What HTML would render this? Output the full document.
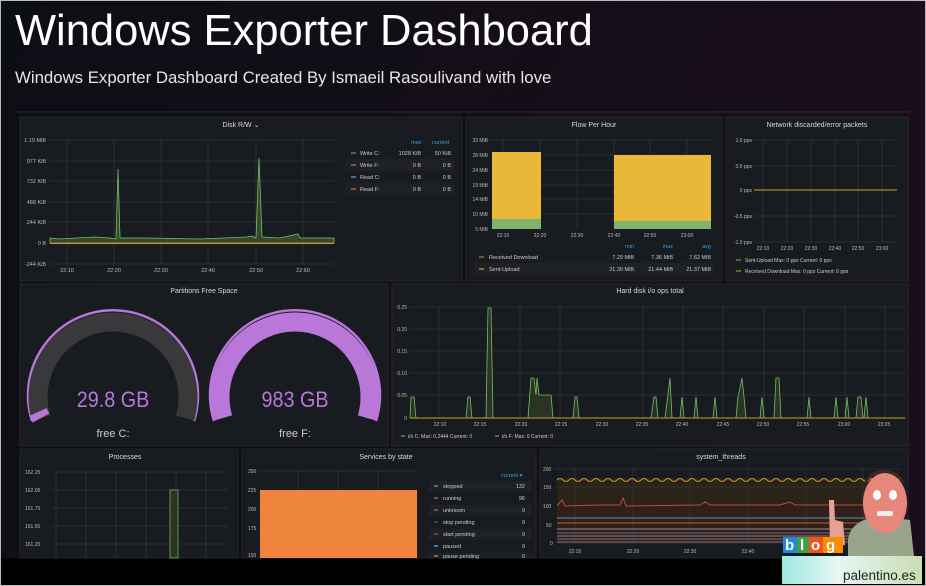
<!DOCTYPE html><html><head><meta charset="utf-8"><style>
html,body{margin:0;padding:0;background:#000;}
svg{display:block;font-family:"Liberation Sans",sans-serif;}
</style></head><body>
<svg width="926" height="586" viewBox="0 0 926 586" xmlns="http://www.w3.org/2000/svg">
<defs>
<linearGradient id="bg" x1="0" y1="0" x2="1" y2="0.3"><stop offset="0" stop-color="#0c0e15"/><stop offset="1" stop-color="#1b0d1c"/></linearGradient>
<linearGradient id="logo" x1="0" y1="0" x2="1" y2="0"><stop offset="0" stop-color="#9ee8e0"/><stop offset="0.4" stop-color="#e6f6f4"/><stop offset="1" stop-color="#c8ddb0"/></linearGradient>
</defs>
<rect width="926" height="586" fill="#000"/>
<rect x="0" y="0" width="926" height="558" fill="url(#bg)"/>
<rect x="0.5" y="0.5" width="925" height="585" fill="none" stroke="#bbb"/>
<text x="15" y="45" font-size="43.5" fill="#fff">Windows Exporter Dashboard</text>
<text x="15" y="83" font-size="16.8" fill="#e6e6e6">Windows Exporter Dashboard Created By Ismaeil Rasoulivand with love</text>
<line x1="15" y1="112" x2="910" y2="112" stroke="#2a2a33"/>
<g fill="#181b1f" stroke="#24262b">
<rect x="20" y="117" width="442" height="164"/>
<rect x="466" y="117" width="256" height="164"/>
<rect x="726" y="117" width="182" height="164"/>
<rect x="20" y="284" width="368" height="162"/>
<rect x="392" y="284" width="516" height="162"/>
<rect x="20" y="449" width="218" height="109"/>
<rect x="242" y="449" width="294" height="109"/>
<rect x="540" y="449" width="368" height="109"/>
</g>
<g font-size="7" fill="#d8d9da" text-anchor="middle">
<text x="241" y="127">Disk R/W ⌄</text>
<text x="594" y="127">Flow Per Hour</text>
<text x="817" y="127">Network discarded/error packets</text>
<text x="204" y="293">Partitions Free Space</text>
<text x="650" y="293">Hard disk i/o ops total</text>
<text x="125" y="459">Processes</text>
<text x="386" y="459">Services by state</text>
<text x="721" y="459">system_threads</text>
</g>
<!-- Disk RW -->
<g stroke="#2c2e33" stroke-width="1">
<line x1="50" y1="140" x2="334" y2="140"/><line x1="50" y1="161" x2="334" y2="161"/><line x1="50" y1="181" x2="334" y2="181"/><line x1="50" y1="202" x2="334" y2="202"/><line x1="50" y1="222" x2="334" y2="222"/><line x1="50" y1="243" x2="334" y2="243"/><line x1="50" y1="264" x2="334" y2="264"/>
<line x1="67" y1="140" x2="67" y2="264"/><line x1="114" y1="140" x2="114" y2="264"/><line x1="161" y1="140" x2="161" y2="264"/><line x1="208" y1="140" x2="208" y2="264"/><line x1="256" y1="140" x2="256" y2="264"/><line x1="303" y1="140" x2="303" y2="264"/>
</g>
<g font-size="5.5" fill="#bbb" text-anchor="end">
<text x="46" y="142">1.19 MiB</text><text x="46" y="163">977 KiB</text><text x="46" y="183">732 KiB</text><text x="46" y="204">488 KiB</text><text x="46" y="224">244 KiB</text><text x="46" y="245">0 B</text><text x="46" y="266">-244 KiB</text>
</g>
<g font-size="5.5" fill="#bbb" text-anchor="middle"><text x="67" y="272">22:10</text><text x="114" y="272">22:20</text><text x="161" y="272">22:30</text><text x="208" y="272">22:40</text><text x="256" y="272">22:50</text><text x="303" y="272">22:60</text></g>
<path d="M50 238 L60 239 L76 238 L95 237 L110 238 L116 239 L118 169 L120 238 L150 238 L200 239 L247 237 L252 236 L256 238 L259 158 L262 237 L280 238 L298 234 L300 238 L334 238 L334 243 L50 243Z" fill="#37472c" stroke="#73bf69" stroke-width="0.8"/>
<line x1="50" y1="243.5" x2="334" y2="243.5" stroke="#e08d2d" stroke-width="1"/>
<g font-size="5.5"><text x="411" y="144" fill="#33a2e5">max</text><text x="432" y="144" fill="#33a2e5">current</text>
<rect x="345" y="159" width="110" height="12" fill="#1f2126"/><rect x="345" y="183" width="110" height="12" fill="#1f2126"/>
<g fill="#ccc"><text x="360" y="155">Write C:</text><text x="360" y="167">Write F:</text><text x="360" y="179">Read C:</text><text x="360" y="191">Read F:</text>
<g text-anchor="end"><text x="421" y="155">1028 KiB</text><text x="451" y="155">50 KiB</text><text x="421" y="167">0 B</text><text x="451" y="167">0 B</text><text x="421" y="179">0 B</text><text x="451" y="179">0 B</text><text x="421" y="191">0 B</text><text x="451" y="191">0 B</text></g></g>
<line x1="351" y1="153" x2="356" y2="153" stroke="#73bf69"/><line x1="351" y1="165" x2="356" y2="165" stroke="#c9a02a"/><line x1="351" y1="177" x2="356" y2="177" stroke="#6ed0e0"/><line x1="351" y1="189" x2="356" y2="189" stroke="#ef843c"/></g>
<!-- Flow per hour -->
<g stroke="#2c2e33"><line x1="490" y1="140" x2="710" y2="140"/><line x1="490" y1="155" x2="710" y2="155"/><line x1="490" y1="170" x2="710" y2="170"/><line x1="490" y1="185" x2="710" y2="185"/><line x1="490" y1="199" x2="710" y2="199"/><line x1="490" y1="214" x2="710" y2="214"/>
<line x1="503" y1="140" x2="503" y2="229"/><line x1="540" y1="140" x2="540" y2="229"/><line x1="577" y1="140" x2="577" y2="229"/><line x1="614" y1="140" x2="614" y2="229"/><line x1="650" y1="140" x2="650" y2="229"/><line x1="687" y1="140" x2="687" y2="229"/></g>
<rect x="492" y="152" width="49" height="67" fill="#eab839"/><rect x="492" y="219" width="49" height="10" fill="#7eb26d"/>
<rect x="614" y="155" width="97" height="66" fill="#eab839"/><rect x="614" y="221" width="97" height="8" fill="#7eb26d"/>
<g font-size="5" fill="#bbb" text-anchor="end"><text x="488" y="142">33 MiB</text><text x="488" y="157">28 MiB</text><text x="488" y="172">24 MiB</text><text x="488" y="187">19 MiB</text><text x="488" y="201">14 MiB</text><text x="488" y="216">10 MiB</text><text x="488" y="231">5 MiB</text></g>
<g font-size="5" fill="#bbb" text-anchor="middle"><text x="503" y="237">22:10</text><text x="540" y="237">22:20</text><text x="577" y="237">22:30</text><text x="614" y="237">22:40</text><text x="650" y="237">22:50</text><text x="687" y="237">23:00</text></g>
<g font-size="5.5"><g fill="#33a2e5" text-anchor="end"><text x="634" y="248">min</text><text x="673" y="248">max</text><text x="711" y="248">avg</text></g>
<rect x="474" y="263" width="240" height="12" fill="#1f2126"/>
<g fill="#ccc"><text x="489" y="259">Received Download</text><text x="489" y="271">Sent-Upload</text>
<g text-anchor="end"><text x="634" y="259">7.29 MiB</text><text x="673" y="259">7.36 MiB</text><text x="711" y="259">7.62 MiB</text><text x="634" y="271">21.30 MiB</text><text x="673" y="271">21.44 MiB</text><text x="711" y="271">21.37 MiB</text></g></g>
<line x1="479" y1="257" x2="484" y2="257" stroke="#7eb26d"/><line x1="479" y1="269" x2="484" y2="269" stroke="#eab839"/></g>
<!-- Network -->
<g stroke="#2c2e33"><line x1="754" y1="140" x2="897" y2="140"/><line x1="754" y1="166" x2="897" y2="166"/><line x1="754" y1="216" x2="897" y2="216"/><line x1="754" y1="242" x2="897" y2="242"/>
<line x1="763" y1="140" x2="763" y2="242"/><line x1="787" y1="140" x2="787" y2="242"/><line x1="811" y1="140" x2="811" y2="242"/><line x1="835" y1="140" x2="835" y2="242"/><line x1="858" y1="140" x2="858" y2="242"/><line x1="882" y1="140" x2="882" y2="242"/></g>
<line x1="754" y1="190" x2="897" y2="190" stroke="#c9a02a"/>
<g font-size="5" fill="#bbb" text-anchor="end"><text x="752" y="142">1.0 pps</text><text x="752" y="168">0.5 pps</text><text x="752" y="192">0 pps</text><text x="752" y="218">-0.5 pps</text><text x="752" y="244">-1.0 pps</text></g>
<g font-size="5" fill="#bbb" text-anchor="middle"><text x="763" y="250">22:10</text><text x="787" y="250">22:20</text><text x="811" y="250">22:30</text><text x="835" y="250">22:40</text><text x="858" y="250">22:50</text><text x="882" y="250">23:00</text></g>
<g font-size="5" fill="#ccc"><text x="745" y="262">Sent-Upload  Max: 0 pps  Current: 0 pps</text><text x="745" y="273">Received Download  Max: 0 pps  Current: 0 pps</text></g>
<line x1="736" y1="260" x2="741" y2="260" stroke="#7eb26d"/><line x1="736" y1="271" x2="741" y2="271" stroke="#c9a02a"/>
<!-- gauges -->
<g fill="none">
<path d="M32 421 A85 85 0 1 1 194 421" stroke="#b877d9" stroke-width="2.5"/>
<path d="M41 418 A75 75 0 1 1 185 418" stroke="#39393c" stroke-width="19"/>
<path d="M41 418 A75 75 0 0 1 38 412" stroke="#b877d9" stroke-width="19"/>
<path d="M214 421 A85 85 0 1 1 376 421" stroke="#b877d9" stroke-width="2.5"/>
<path d="M223 418 A75 75 0 1 1 367 418" stroke="#b877d9" stroke-width="19"/>
</g>
<g font-size="22" fill="#b877d9" text-anchor="middle" transform="translate(113 407) scale(0.9 1)"><text x="0" y="0">29.8 GB</text></g>
<g font-size="22" fill="#b877d9" text-anchor="middle" transform="translate(295 407) scale(0.9 1)"><text x="0" y="0">983 GB</text></g>
<g font-size="11" fill="#ccc" text-anchor="middle"><text x="113" y="437">free C:</text><text x="295" y="437">free F:</text></g>
<!-- Hard disk -->
<g stroke="#2c2e33"><line x1="410" y1="307" x2="905" y2="307"/><line x1="410" y1="329" x2="905" y2="329"/><line x1="410" y1="351" x2="905" y2="351"/><line x1="410" y1="373" x2="905" y2="373"/><line x1="410" y1="395" x2="905" y2="395"/>
<line x1="439" y1="307" x2="439" y2="418"/><line x1="520" y1="307" x2="520" y2="418"/><line x1="560" y1="307" x2="560" y2="418"/><line x1="643" y1="307" x2="643" y2="418"/><line x1="683" y1="307" x2="683" y2="418"/><line x1="723" y1="307" x2="723" y2="418"/><line x1="764" y1="307" x2="764" y2="418"/><line x1="804" y1="307" x2="804" y2="418"/><line x1="845" y1="307" x2="845" y2="418"/><line x1="885" y1="307" x2="885" y2="418"/></g>
<g font-size="5" fill="#bbb" text-anchor="end"><text x="407" y="309">0.25</text><text x="407" y="331">0.20</text><text x="407" y="353">0.15</text><text x="407" y="375">0.10</text><text x="407" y="397">0.05</text><text x="407" y="420">0</text></g>
<g font-size="5" fill="#bbb" text-anchor="middle"><text x="440" y="426">22:10</text><text x="480" y="426">22:15</text><text x="521" y="426">22:20</text><text x="561" y="426">22:25</text><text x="602" y="426">22:30</text><text x="642" y="426">22:35</text><text x="682" y="426">22:40</text><text x="723" y="426">22:45</text><text x="763" y="426">22:50</text><text x="803" y="426">22:55</text><text x="844" y="426">23:00</text><text x="884" y="426">23:05</text></g>
<path d="M410 418 L411 397 L414 397 L416 418 L466 418 L468 397 L470 397 L472 418 L486 418 L488 308 L491 308 L493 418 L528 418 L531 378 L534 378 L536 395 L537 378 L539 395 L551 395 L553 418 L573 418 L575 397 L577 397 L579 418 L651 418 L654 397 L656 397 L658 418 L665 418 L670 378 L672 418 L680 418 L682 397 L684 418 L694 418 L696 397 L698 418 L713 418 L715 397 L717 418 L736 418 L738 397 L742 378 L744 397 L746 418 L760 418 L762 397 L764 418 L774 418 L776 378 L779 378 L781 418 L807 418 L809 397 L811 418 L834 418 L836 397 L838 418 L845 418 L847 397 L849 418 L856 418 L858 397 L861 397 L863 418 L864 418 L866 397 L868 418 L905 418Z" fill="#2a3324" stroke="#73bf69" stroke-width="0.8"/>
<line x1="410" y1="418" x2="905" y2="418" stroke="#c9a02a"/>
<g font-size="5" fill="#ccc"><text x="408" y="438">i/o C:  Max: 0.2444  Current: 0</text><text x="502" y="438">i/o F:  Max: 0  Current: 0</text></g>
<line x1="401" y1="436" x2="405" y2="436" stroke="#73bf69"/><line x1="495" y1="436" x2="499" y2="436" stroke="#c9a02a"/>
<!-- processes -->
<g stroke="#2c2e33"><line x1="52" y1="472" x2="228" y2="472"/><line x1="52" y1="490" x2="228" y2="490"/><line x1="52" y1="508" x2="228" y2="508"/><line x1="52" y1="526" x2="228" y2="526"/><line x1="52" y1="544" x2="228" y2="544"/>
<line x1="56" y1="472" x2="56" y2="558"/><line x1="86" y1="472" x2="86" y2="558"/><line x1="116" y1="472" x2="116" y2="558"/><line x1="146" y1="472" x2="146" y2="558"/><line x1="176" y1="472" x2="176" y2="558"/><line x1="206" y1="472" x2="206" y2="558"/></g>
<rect x="170" y="490" width="8" height="68" fill="#2a3324" stroke="#73bf69" stroke-width="0.7"/>
<g font-size="5" fill="#bbb"><text x="25" y="474">162.25</text><text x="25" y="492">162.00</text><text x="25" y="510">161.75</text><text x="25" y="528">161.50</text><text x="25" y="546">161.25</text></g>
<!-- services -->
<g stroke="#2c2e33"><line x1="258" y1="471" x2="418" y2="471"/><line x1="258" y1="509" x2="418" y2="509"/><line x1="258" y1="528" x2="418" y2="528"/>
<line x1="298" y1="471" x2="298" y2="490"/><line x1="338" y1="471" x2="338" y2="490"/><line x1="378" y1="471" x2="378" y2="490"/></g>
<rect x="260" y="490" width="157" height="68" fill="#ef843c"/>
<g font-size="5" fill="#bbb"><text x="248" y="473">250</text><text x="248" y="492">225</text><text x="248" y="511">200</text><text x="248" y="530">175</text><text x="248" y="557">150</text></g>
<g font-size="5.5"><text x="501" y="477" fill="#33a2e5">current ▾</text>
<rect x="429" y="481" width="103" height="10" fill="#1f2126"/><rect x="429" y="505" width="103" height="10" fill="#1f2126"/><rect x="429" y="529" width="103" height="10" fill="#1f2126"/><rect x="429" y="553" width="103" height="5" fill="#1f2126"/>
<g fill="#ccc"><text x="443" y="488">stopped</text><text x="443" y="500">running</text><text x="443" y="512">unknown</text><text x="443" y="524">stop pending</text><text x="443" y="536">start pending</text><text x="443" y="548">paused</text><text x="443" y="558">pause pending</text>
<g text-anchor="end"><text x="525" y="488">132</text><text x="525" y="500">96</text><text x="525" y="512">0</text><text x="525" y="524">0</text><text x="525" y="536">0</text><text x="525" y="548">0</text><text x="525" y="558">0</text></g></g>
<g stroke-width="1"><line x1="434" y1="486" x2="438" y2="486" stroke="#6ed0e0"/><line x1="434" y1="498" x2="438" y2="498" stroke="#ef843c"/><line x1="434" y1="510" x2="438" y2="510" stroke="#999"/><line x1="434" y1="522" x2="438" y2="522" stroke="#1f78c1"/><line x1="434" y1="534" x2="438" y2="534" stroke="#e24d42"/><line x1="434" y1="546" x2="438" y2="546" stroke="#70dbed"/><line x1="434" y1="556" x2="438" y2="556" stroke="#eab839"/></g></g>
<!-- system threads -->
<rect x="557" y="478" width="343" height="66" fill="#2a2418"/>
<rect x="557" y="504" width="343" height="40" fill="#30201c"/>
<g stroke="#2c2e33"><line x1="555" y1="469" x2="900" y2="469"/><line x1="555" y1="487" x2="900" y2="487"/>
<line x1="575" y1="469" x2="575" y2="544"/><line x1="633" y1="469" x2="633" y2="544"/><line x1="690" y1="469" x2="690" y2="544"/><line x1="748" y1="469" x2="748" y2="544"/><line x1="806" y1="469" x2="806" y2="544"/><line x1="863" y1="469" x2="863" y2="544"/></g>
<path d="M557 480 q3 -3 6 0 t6 0 t6 0 t6 0 t6 0 t6 0 t6 0 t6 0 t6 0 t6 0 t6 0 t6 0 t6 0 t6 0 t6 0 t6 0 t6 0 t6 0 t6 0 t6 0 t6 0 t6 0 t6 0 t6 0 t6 0 t6 0 t6 0 t6 0 t6 0 t6 0 t6 0 t6 0 t6 0 t6 0 t6 0 t6 0 t6 0 t6 0 t6 0 t6 0 t6 0 t6 0 t6 0 t6 0 t6 0 t6 0 t6 0 t6 0 t6 0 t6 0 t6 0 t6 0 t6 0 t6 0 t6 0 t6 0 t6 0" fill="none" stroke="#c9a02a" stroke-width="1"/>
<path d="M557 506 L562 500 L565 506 L600 505 L620 505 L623 498 L626 506 L700 505 L705 502 L710 505 L780 505 L790 502 L795 505 L900 505" fill="none" stroke="#c1493b" stroke-width="1"/>
<line x1="557" y1="518" x2="900" y2="518" stroke="#6e8ea0"/>
<line x1="557" y1="523" x2="900" y2="523" stroke="#b8643a"/>
<line x1="557" y1="529" x2="900" y2="529" stroke="#8f8f8f"/>
<line x1="557" y1="533" x2="900" y2="533" stroke="#7a5f8f"/>
<line x1="557" y1="536" x2="900" y2="536" stroke="#9c7c6a"/>
<line x1="557" y1="539" x2="900" y2="539" stroke="#5b7f7a"/>
<line x1="557" y1="542" x2="900" y2="542" stroke="#7f6a9c"/>
<g font-size="5" fill="#bbb"><text x="543" y="471">200</text><text x="543" y="489">150</text><text x="543" y="508">100</text><text x="546" y="527">50</text><text x="550" y="545">0</text></g>
<g font-size="5" fill="#bbb" text-anchor="middle"><text x="575" y="553">22:10</text><text x="633" y="553">22:20</text><text x="690" y="553">22:30</text><text x="748" y="553">22:40</text><text x="806" y="553">22:50</text><text x="863" y="553">23:00</text></g>
<!-- blog logo -->
<path d="M848 540 Q850 520 880 516 L910 520 L914 556 L848 556Z" fill="#9aa48a"/>
<ellipse cx="885" cy="503" rx="22" ry="30" fill="#e8867c"/>
<path d="M864 485 Q885 460 906 486 Q900 470 885 470 Q868 470 864 485Z" fill="#3a2a22"/>
<ellipse cx="877" cy="495" rx="4" ry="5" fill="#fff"/><ellipse cx="893" cy="495" rx="4" ry="5" fill="#fff"/>
<rect x="877" y="511" width="16" height="5" rx="2" fill="#eee"/>
<path d="M829 500 L834 500 L835 520 L843 522 L845 545 L830 548 Z" fill="#e8a090"/>
<rect x="783" y="537" width="14" height="16" fill="#1e88e5"/><rect x="797" y="537" width="12" height="16" fill="#43a047"/><rect x="809" y="537" width="14" height="16" fill="#f4511e"/><rect x="823" y="537" width="20" height="16" fill="#fb8c00"/>
<g font-size="15" fill="#fff" font-weight="bold"><text x="785" y="550">b</text><text x="800" y="550">l</text><text x="811" y="550">o</text><text x="826" y="550">g</text></g>
<rect x="782" y="556" width="140" height="28" fill="url(#logo)"/>
<text x="843" y="580" font-size="13.5" fill="#222">palentino.es</text>
</svg>
</body></html>
